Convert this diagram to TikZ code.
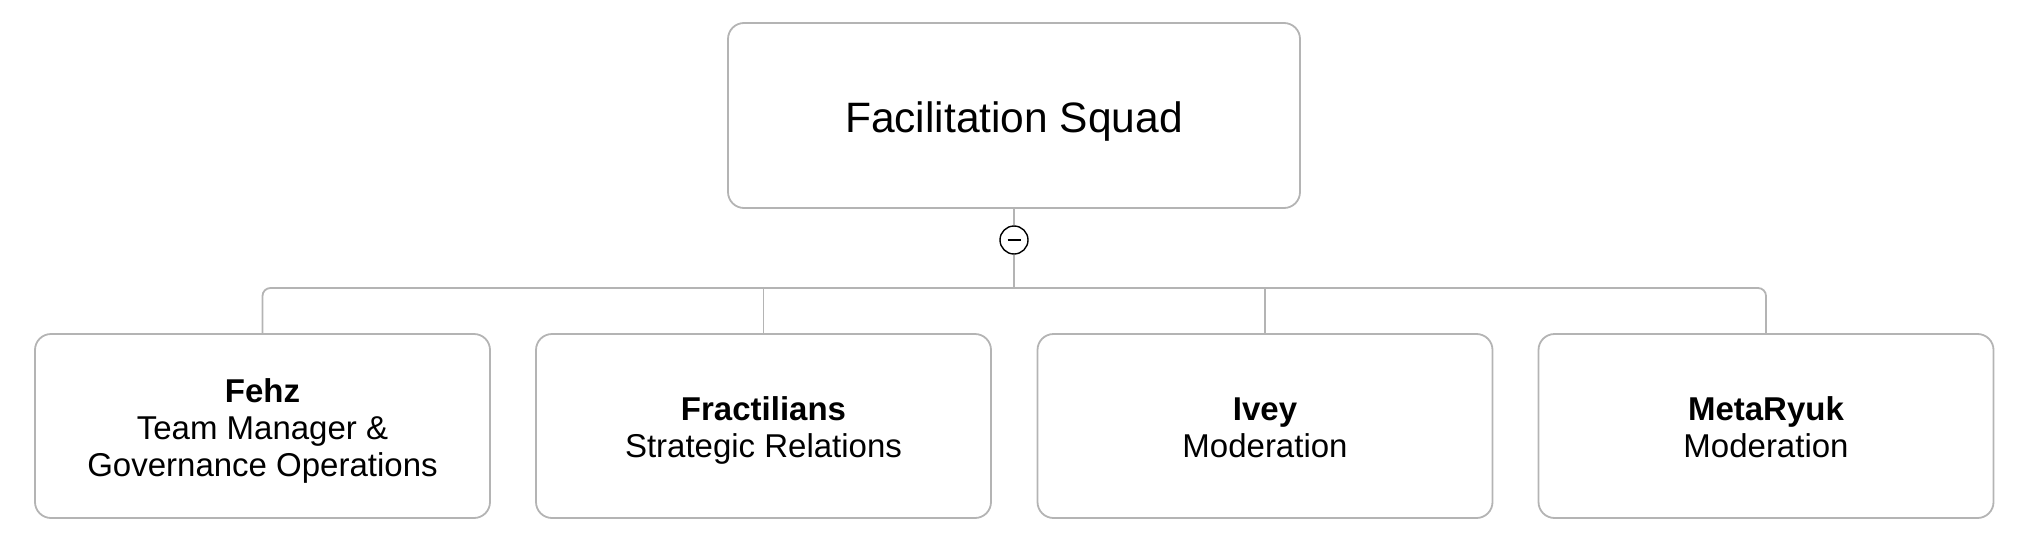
\documentclass[tikz,border=0pt]{standalone}
\usepackage{fontspec}
\setmainfont{Liberation Sans}
\definecolor{linegray}{RGB}{180,180,180}
\begin{document}
\begin{tikzpicture}[x=1pt,y=-1pt,
  box/.style={draw=linegray, line width=1.8pt, rounded corners=16pt, minimum width=455pt, minimum height=184pt, inner sep=0pt},
  topbox/.style={box, minimum width=572pt, minimum height=185pt},
  lbl/.style={align=center, inner sep=0pt, text=black, font=\fontsize{33}{37}\selectfont},
  toplbl/.style={lbl, font=\fontsize{42.5}{50}\selectfont},
  conn/.style={draw=linegray, line width=1.8pt},
  toggle/.style={circle, draw=black, line width=1.4pt, minimum size=28pt, inner sep=0pt, fill=white}]
\useasboundingbox (0,0) rectangle (2036,546);
\node[topbox] (top) at (1014,115.5) {};
\node[toplbl] (topt) at ([yshift=-6.5pt]top.center) {Facilitation Squad};
\node[toggle] (tog) at (1014,240) {};
\draw[line width=1.4pt] ([xshift=-6.5pt]tog.center) -- ([xshift=6.5pt]tog.center);
\coordinate (bar) at (1014,288);
\node[box] (b1) at (262.5,426) {};
\node[box] (b2) at (763.5,426) {};
\node[box] (b3) at (1265,426) {};
\node[box] (b4) at (1766,426) {};
\node[lbl] (b1t) at ([yshift=-6pt]b1.center) {\strut\textbf{Fehz}\\\strut Team Manager \&\\\strut Governance Operations};
\node[lbl] (b2t) at ([yshift=-6pt]b2.center) {\strut\textbf{Fractilians}\\\strut Strategic Relations};
\node[lbl] (b3t) at ([yshift=-6pt]b3.center) {\strut\textbf{Ivey}\\\strut Moderation};
\node[lbl] (b4t) at ([yshift=-6pt]b4.center) {\strut\textbf{MetaRyuk}\\\strut Moderation};
\draw[conn] (top.south) -- (tog.north);
\draw[conn] (tog.south) -- (bar);
\draw[conn, rounded corners=8pt] (b1.north) -- (b1.north |- bar) -- (b4.north |- bar) -- (b4.north);
\draw[conn] (b2.north) -- (b2.north |- bar);
\draw[conn] (b3.north) -- (b3.north |- bar);
\end{tikzpicture}
\end{document}
